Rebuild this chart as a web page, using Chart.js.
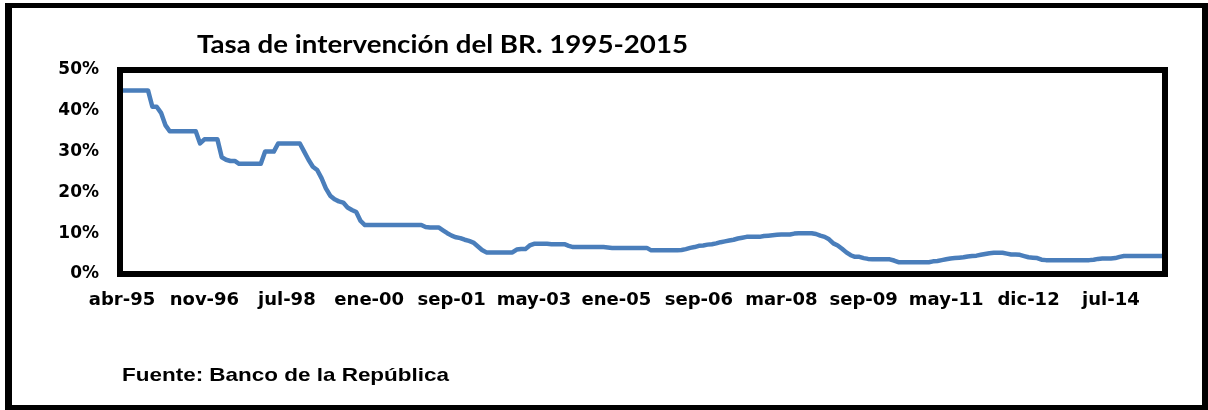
<!DOCTYPE html>
<html>
<head>
<meta charset="utf-8">
<script src="https://cdn.jsdelivr.net/npm/chart.js@4.4.1/dist/chart.umd.min.js"></script>
<style>
  html, body { margin: 0; padding: 0; background: #fff; }
  #wrap { position: relative; width: 1208px; height: 410px; }
</style>
</head>
<body>
<div id="wrap"><canvas id="rateChart" width="1208" height="410"></canvas></div>
<script>
var chartTitle = 'Tasa de intervención del BR. 1995-2015';
var sourceNote = 'Fuente: Banco de la República';

// one label every 19 observations
var tickLabels = ['abr-95', 'nov-96', 'jul-98', 'ene-00', 'sep-01', 'may-03', 'ene-05',
                  'sep-06', 'mar-08', 'sep-09', 'may-11', 'dic-12', 'jul-14'];
var labelStep = 19;

// tasa de intervencion, %
var rate = [
  45, 45, 45, 45, 45, 45, 45, 41, 41, 39.5,
  36.5, 35, 35, 35, 35, 35, 35, 35, 32, 33,
  33, 33, 33, 28.6, 28, 27.7, 27.7, 27, 27, 27,
  27, 27, 27, 30, 30, 30, 32, 32, 32, 32,
  32, 32, 30, 28, 26.3, 25.5, 23.5, 21, 19.2, 18.3,
  17.8, 17.5, 16.3, 15.7, 15.2, 13, 12, 12, 12, 12,
  12, 12, 12, 12, 12, 12, 12, 12, 12, 12,
  11.5, 11.4, 11.4, 11.4, 10.7, 10, 9.4, 9, 8.8, 8.4,
  8.1, 7.7, 6.8, 5.9, 5.3, 5.3, 5.3, 5.3, 5.3, 5.3,
  5.3, 6, 6.1, 6.1, 7, 7.4, 7.4, 7.4, 7.4, 7.3,
  7.3, 7.3, 7.3, 6.9, 6.6, 6.6, 6.6, 6.6, 6.6, 6.6,
  6.6, 6.6, 6.5, 6.4, 6.4, 6.4, 6.4, 6.4, 6.4, 6.4,
  6.4, 6.4, 5.8, 5.8, 5.8, 5.8, 5.8, 5.8, 5.8, 5.9,
  6.1, 6.4, 6.6, 6.9, 7, 7.2, 7.3, 7.5, 7.8, 8,
  8.2, 8.4, 8.7, 8.9, 9.1, 9.1, 9.1, 9.1, 9.3, 9.4,
  9.5, 9.6, 9.7, 9.7, 9.7, 9.9, 10, 10, 10, 10,
  9.8, 9.4, 9.1, 8.5, 7.5, 7, 6.2, 5.3, 4.6, 4.2,
  4.2, 3.9, 3.7, 3.6, 3.6, 3.6, 3.6, 3.6, 3.3, 2.9,
  2.9, 2.9, 2.9, 2.9, 2.9, 2.9, 2.9, 3.1, 3.2, 3.4,
  3.6, 3.8, 3.9, 4, 4.1, 4.3, 4.4, 4.5, 4.7, 4.9,
  5.1, 5.2, 5.2, 5.2, 5, 4.8, 4.8, 4.7, 4.4, 4.1,
  4, 3.9, 3.5, 3.4, 3.4, 3.4, 3.4, 3.4, 3.4, 3.4,
  3.4, 3.4, 3.4, 3.4, 3.5, 3.7, 3.8, 3.8, 3.8, 3.9,
  4.2, 4.4, 4.4, 4.4, 4.4, 4.4, 4.4, 4.4, 4.4, 4.4, 4.4
];

var categories = rate.map(function(v, i) {
  return i % labelStep === 0 ? tickLabels[i / labelStep] : '';
});

// draw text squeezed/stretched to a given width
function fitText(ctx, text, x, y, width, font) {
  ctx.font = font;
  var w = ctx.measureText(text).width;
  ctx.save();
  ctx.translate(x, y);
  ctx.scale(width / w, 1);
  ctx.fillText(text, 0, 0);
  ctx.restore();
}

var decorations = {
  id: 'decorations',
  afterDatasetsDraw: function(chart) {
    var ctx = chart.ctx, ca = chart.chartArea;
    ctx.save();
    // plot area box
    ctx.strokeStyle = '#000';
    ctx.lineWidth = 6;
    ctx.strokeRect(ca.left - 2, ca.top, ca.right - ca.left + 4, ca.bottom - ca.top);
    // outer frame
    ctx.fillStyle = '#000';
    ctx.fillRect(5, 3, 7, 407);
    ctx.fillRect(5, 3, 1203, 5);
    ctx.fillRect(1202, 3, 6, 407);
    ctx.fillRect(5, 405, 1203, 5);
    // title and source
    ctx.textBaseline = 'alphabetic';
    ctx.textAlign = 'left';
    fitText(ctx, chartTitle, 197, 53, 491, 'bold 25px Lato');
    fitText(ctx, sourceNote, 122, 381, 327, 'bold 19px "Liberation Sans"');
    ctx.restore();
  }
};

var ctx = document.getElementById('rateChart').getContext('2d');
var rateChart = new Chart(ctx, {
  type: 'line',
  data: {
    labels: categories,
    datasets: [{
      data: rate,
      borderColor: '#4A7EBB',
      borderWidth: 4.5,
      borderJoinStyle: 'round',
      borderCapStyle: 'round',
      pointRadius: 0,
      tension: 0,
      fill: false
    }]
  },
  options: {
    responsive: false,
    animation: false,
    devicePixelRatio: 1,
    layout: { padding: { top: 70, right: 45, bottom: 0, left: 0 } },
    plugins: {
      legend: { display: false },
      tooltip: { enabled: false },
      title: { display: false }
    },
    scales: {
      x: {
        offset: false,
        grid: { display: false, drawTicks: false },
        border: { display: false },
        ticks: {
          autoSkip: false,
          maxRotation: 0,
          minRotation: 0,
          padding: 16,
          color: '#000',
          font: { family: 'DejaVu Sans', weight: 'bold', size: 18 }
        },
        afterFit: function(scale) { scale.height = 136; }
      },
      y: {
        min: 0,
        max: 50,
        grid: { display: false, drawTicks: false },
        border: { display: false },
        ticks: {
          stepSize: 10,
          padding: 23,
          color: '#000',
          font: { family: 'DejaVu Sans', weight: 'bold', size: 17 },
          callback: function(v) { return v + '%'; }
        },
        afterFit: function(scale) { scale.width = 122; }
      }
    }
  },
  plugins: [decorations]
});
</script>
</body>
</html>
